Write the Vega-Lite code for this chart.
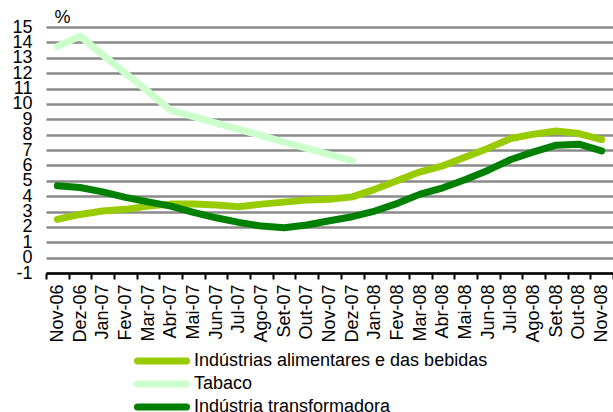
{
  "$schema": "https://vega.github.io/schema/vega-lite/v6.json",
  "width": 567,
  "height": 246,
  "autosize": {"type": "none"},
  "padding": {"left": 46, "top": 27, "right": 0, "bottom": 139},
  "background": "white",
  "config": {
    "view": {"stroke": null},
    "font": "Liberation Sans"
  },
  "datasets": {
    "rows": [
      {"month": "Nov-06", "series": "Indústrias alimentares e das bebidas", "value": 2.49},
      {"month": "Dez-06", "series": "Indústrias alimentares e das bebidas", "value": 2.81},
      {"month": "Jan-07", "series": "Indústrias alimentares e das bebidas", "value": 3.03},
      {"month": "Fev-07", "series": "Indústrias alimentares e das bebidas", "value": 3.14},
      {"month": "Mar-07", "series": "Indústrias alimentares e das bebidas", "value": 3.35},
      {"month": "Abr-07", "series": "Indústrias alimentares e das bebidas", "value": 3.48},
      {"month": "Mai-07", "series": "Indústrias alimentares e das bebidas", "value": 3.48},
      {"month": "Jun-07", "series": "Indústrias alimentares e das bebidas", "value": 3.42},
      {"month": "Jul-07", "series": "Indústrias alimentares e das bebidas", "value": 3.31},
      {"month": "Ago-07", "series": "Indústrias alimentares e das bebidas", "value": 3.48},
      {"month": "Set-07", "series": "Indústrias alimentares e das bebidas", "value": 3.61},
      {"month": "Out-07", "series": "Indústrias alimentares e das bebidas", "value": 3.74},
      {"month": "Nov-07", "series": "Indústrias alimentares e das bebidas", "value": 3.79},
      {"month": "Dez-07", "series": "Indústrias alimentares e das bebidas", "value": 3.95},
      {"month": "Jan-08", "series": "Indústrias alimentares e das bebidas", "value": 4.44},
      {"month": "Fev-08", "series": "Indústrias alimentares e das bebidas", "value": 5.02},
      {"month": "Mar-08", "series": "Indústrias alimentares e das bebidas", "value": 5.58},
      {"month": "Abr-08", "series": "Indústrias alimentares e das bebidas", "value": 5.97},
      {"month": "Mai-08", "series": "Indústrias alimentares e das bebidas", "value": 6.55},
      {"month": "Jun-08", "series": "Indústrias alimentares e das bebidas", "value": 7.12},
      {"month": "Jul-08", "series": "Indústrias alimentares e das bebidas", "value": 7.75},
      {"month": "Ago-08", "series": "Indústrias alimentares e das bebidas", "value": 8.03},
      {"month": "Set-08", "series": "Indústrias alimentares e das bebidas", "value": 8.24},
      {"month": "Out-08", "series": "Indústrias alimentares e das bebidas", "value": 8.07},
      {"month": "Nov-08", "series": "Indústrias alimentares e das bebidas", "value": 7.68},
      {"month": "Nov-06", "series": "Tabaco", "value": 13.74},
      {"month": "Dez-06", "series": "Tabaco", "value": 14.41},
      {"month": "Jan-07", "series": "Tabaco", "value": 13.2},
      {"month": "Fev-07", "series": "Tabaco", "value": 12.0},
      {"month": "Mar-07", "series": "Tabaco", "value": 10.8},
      {"month": "Abr-07", "series": "Tabaco", "value": 9.58},
      {"month": "Mai-07", "series": "Tabaco", "value": 9.17},
      {"month": "Jun-07", "series": "Tabaco", "value": 8.75},
      {"month": "Jul-07", "series": "Tabaco", "value": 8.34},
      {"month": "Ago-07", "series": "Tabaco", "value": 7.93},
      {"month": "Set-07", "series": "Tabaco", "value": 7.52},
      {"month": "Out-07", "series": "Tabaco", "value": 7.11},
      {"month": "Nov-07", "series": "Tabaco", "value": 6.7},
      {"month": "Dez-07", "series": "Tabaco", "value": 6.29},
      {"month": "Nov-06", "series": "Indústria transformadora", "value": 4.67},
      {"month": "Dez-06", "series": "Indústria transformadora", "value": 4.56},
      {"month": "Jan-07", "series": "Indústria transformadora", "value": 4.28},
      {"month": "Fev-07", "series": "Indústria transformadora", "value": 3.92},
      {"month": "Mar-07", "series": "Indústria transformadora", "value": 3.63},
      {"month": "Abr-07", "series": "Indústria transformadora", "value": 3.35},
      {"month": "Mai-07", "series": "Indústria transformadora", "value": 2.94},
      {"month": "Jun-07", "series": "Indústria transformadora", "value": 2.59},
      {"month": "Jul-07", "series": "Indústria transformadora", "value": 2.29},
      {"month": "Ago-07", "series": "Indústria transformadora", "value": 2.05},
      {"month": "Set-07", "series": "Indústria transformadora", "value": 1.94},
      {"month": "Out-07", "series": "Indústria transformadora", "value": 2.12},
      {"month": "Nov-07", "series": "Indústria transformadora", "value": 2.4},
      {"month": "Dez-07", "series": "Indústria transformadora", "value": 2.66},
      {"month": "Jan-08", "series": "Indústria transformadora", "value": 3.03},
      {"month": "Fev-08", "series": "Indústria transformadora", "value": 3.53},
      {"month": "Mar-08", "series": "Indústria transformadora", "value": 4.13},
      {"month": "Abr-08", "series": "Indústria transformadora", "value": 4.54},
      {"month": "Mai-08", "series": "Indústria transformadora", "value": 5.08},
      {"month": "Jun-08", "series": "Indústria transformadora", "value": 5.69},
      {"month": "Jul-08", "series": "Indústria transformadora", "value": 6.38},
      {"month": "Ago-08", "series": "Indústria transformadora", "value": 6.88},
      {"month": "Set-08", "series": "Indústria transformadora", "value": 7.31},
      {"month": "Out-08", "series": "Indústria transformadora", "value": 7.38},
      {"month": "Nov-08", "series": "Indústria transformadora", "value": 6.94}
    ]
  },
  "data": {"name": "rows"},
  "mark": {"type": "line", "strokeWidth": 7, "strokeCap": "round", "strokeJoin": "round"},
  "encoding": {
    "x": {
      "field": "month",
      "type": "ordinal",
      "sort": null,
      "scale": {"type": "band", "paddingInner": 0, "paddingOuter": 0},
      "axis": {
        "title": null,
        "labelAngle": -90,
        "labelAlign": "right",
        "labelBaseline": "middle",
        "labelFontSize": 18,
        "labelColor": "black",
        "labelPadding": 5,
        "labelFont": "Liberation Sans",
        "domainColor": "black",
        "domainWidth": 2.5,
        "tickColor": "black",
        "tickWidth": 2,
        "tickSize": 6,
        "tickBand": "extent",
        "grid": false
      }
    },
    "y": {
      "field": "value",
      "type": "quantitative",
      "scale": {"domain": [-1, 15], "nice": false, "zero": false},
      "axis": {
        "values": [-1, 0, 1, 2, 3, 4, 5, 6, 7, 8, 9, 10, 11, 12, 13, 14, 15],
        "labelExpr": "'' + datum.value",
        "title": "%",
        "titleAngle": 0,
        "titleX": 16,
        "titleY": -10,
        "titleAlign": "center",
        "titleBaseline": "middle",
        "titleFontSize": 18,
        "titleFontWeight": "normal",
        "titleColor": "black",
        "titleFont": "Liberation Sans",
        "labelFontSize": 18,
        "labelColor": "black",
        "labelFont": "Liberation Sans",
        "labelPadding": 14,
        "labelBaseline": "middle",
        "labelOverlap": false,
        "domain": false,
        "ticks": false,
        "tickSize": 0,
        "grid": true,
        "gridColor": "#8a8a8a",
        "gridWidth": 2.5
      }
    },
    "color": {
      "field": "series",
      "type": "nominal",
      "scale": {
        "domain": ["Indústrias alimentares e das bebidas", "Tabaco", "Indústria transformadora"],
        "range": ["#99cc00", "#ccffcc", "#008000"]
      },
      "legend": {
        "title": null,
        "orient": "none",
        "legendX": 107,
        "legendY": 325,
        "direction": "vertical",
        "symbolType": "M-6.125,0H6.125",
        "symbolSize": 64,
        "symbolStrokeWidth": 7,
        "labelFontSize": 18,
        "labelFont": "Liberation Sans",
        "labelColor": "black",
        "labelOffset": 23,
        "labelLimit": 500,
        "rowPadding": -6,
        "padding": 0,
        "encode": {"symbols": {"update": {"strokeCap": {"value": "round"}}}}
      }
    }
  }
}
